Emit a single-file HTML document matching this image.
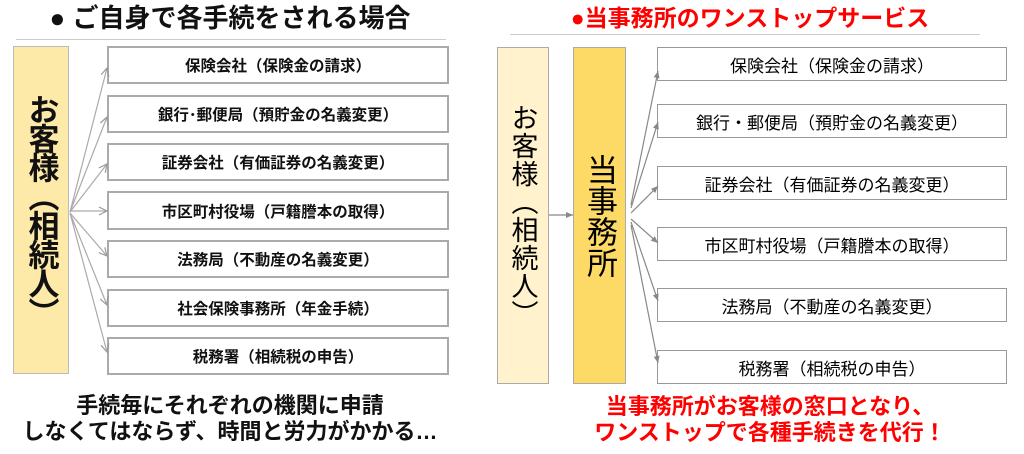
<!DOCTYPE html>
<html><head><meta charset="utf-8"><style>
body{margin:0;width:1024px;height:454px;background:#fff;position:relative;overflow:hidden;font-family:"Liberation Sans","Noto Sans CJK JP",sans-serif;font-weight:bold;color:#111}
.a{position:absolute}
.bx{position:absolute;border:2px solid #aaa;background:#fff;box-sizing:border-box;display:flex;align-items:center;justify-content:center;font-size:15.5px}
.rb{border:1.5px solid #999;font-size:17px;font-weight:normal;color:#000}
.v{writing-mode:vertical-rl;text-orientation:upright;display:flex;align-items:center;justify-content:center;box-sizing:border-box;position:absolute}
</style></head><body>
<div class="a" style="left:0;width:460px;top:3px;text-align:center;font-size:26px;line-height:30px">● ご自身で各手続をされる場合</div>
<div class="a" style="left:16px;width:430px;top:39px;height:1px;background:#ccc"></div>
<div class="a" style="left:510px;width:480px;top:4px;text-align:center;font-size:23px;line-height:28px;color:#f00">●当事務所のワンストップサービス</div>
<div class="a" style="left:510px;width:470px;top:34px;height:1px;background:#ccc"></div>

<div class="v" style="left:13px;top:46px;width:56px;height:328px;background:#fde9a8;border:1.5px solid #bbb;font-size:31px;letter-spacing:-2px">お客様（相続人）</div>

<div class="bx" style="left:107px;top:46px;width:342px;height:38px">保険会社（保険金の請求）</div>
<div class="bx" style="left:107px;top:95px;width:342px;height:38px">銀行･郵便局（預貯金の名義変更）</div>
<div class="bx" style="left:107px;top:143px;width:342px;height:38px">証券会社（有価証券の名義変更）</div>
<div class="bx" style="left:107px;top:191px;width:342px;height:39px">市区町村役場（戸籍謄本の取得）</div>
<div class="bx" style="left:107px;top:240px;width:342px;height:38px">法務局（不動産の名義変更）</div>
<div class="bx" style="left:107px;top:289px;width:342px;height:38px">社会保険事務所（年金手続）</div>
<div class="bx" style="left:107px;top:337px;width:342px;height:38px">税務署（相続税の申告）</div>

<div class="v" style="left:497px;top:47px;width:52px;height:337px;background:#fff2cc;border:1.5px solid #aaa;font-size:27px;font-weight:normal;color:#000;letter-spacing:1px">お客様（相続人）</div>
<div class="v" style="left:573px;top:47px;width:53px;height:337px;background:#fdd966;border:1.5px solid #aaa;font-size:31px;font-weight:normal;color:#000;letter-spacing:0px">当事務所</div>

<div class="bx rb" style="left:657px;top:47px;width:350px;height:34px">保険会社（保険金の請求）</div>
<div class="bx rb" style="left:657px;top:104px;width:350px;height:34px">銀行・郵便局（預貯金の名義変更）</div>
<div class="bx rb" style="left:657px;top:166px;width:350px;height:34px">証券会社（有価証券の名義変更）</div>
<div class="bx rb" style="left:657px;top:227px;width:350px;height:34px">市区町村役場（戸籍謄本の取得）</div>
<div class="bx rb" style="left:657px;top:288px;width:350px;height:34px">法務局（不動産の名義変更）</div>
<div class="bx rb" style="left:657px;top:350px;width:350px;height:34px">税務署（相続税の申告）</div>

<svg class="a" style="left:0;top:0" width="1024" height="454">
<defs>
<marker id="o" markerWidth="10" markerHeight="10" refX="9" refY="5" orient="auto" markerUnits="userSpaceOnUse"><path d="M1,1 L9,5 L1,9" fill="none" stroke="#999" stroke-width="1.2"/></marker>
<marker id="f" markerWidth="8" markerHeight="8" refX="7" refY="4" orient="auto" markerUnits="userSpaceOnUse"><path d="M0,1 L7,4 L0,7z" fill="#888"/></marker>
</defs>
<g stroke="#aaa" stroke-width="1.2" fill="none" marker-end="url(#o)">
<line x1="70" y1="212" x2="107" y2="68"/>
<line x1="70" y1="212" x2="107" y2="117"/>
<line x1="70" y1="212" x2="107" y2="164"/>
<line x1="70" y1="211" x2="107" y2="211"/>
<line x1="70" y1="213" x2="107" y2="256"/>
<line x1="70" y1="213" x2="107" y2="305"/>
<line x1="70" y1="213" x2="107" y2="352"/>
</g>
<g stroke="#888" stroke-width="1.2" fill="none" marker-end="url(#f)">
<line x1="549" y1="215" x2="573" y2="215"/>
<line x1="631" y1="205" x2="658" y2="71"/>
<line x1="631" y1="208" x2="658" y2="122"/>
<line x1="631" y1="213" x2="658" y2="186"/>
<line x1="631" y1="219" x2="658" y2="243"/>
<line x1="631" y1="222" x2="658" y2="301"/>
<line x1="631" y1="225" x2="658" y2="363"/>
</g>
</svg>

<div class="a" style="left:0;width:460px;top:393px;text-align:center;font-size:22px;line-height:26px">手続毎にそれぞれの機関に申請<br>しなくてはならず、時間と労力がかかる…</div>
<div class="a" style="left:510px;width:520px;top:394px;text-align:center;font-size:22px;line-height:26px;color:#f00">当事務所がお客様の窓口となり、<br>ワンストップで各種手続きを代行！</div>
</body></html>
